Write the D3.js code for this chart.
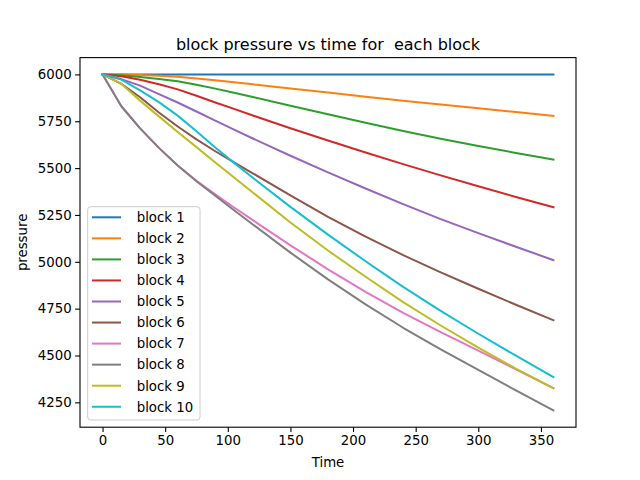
<!DOCTYPE html>
<html><head><meta charset="utf-8">
<script src="https://cdn.jsdelivr.net/npm/d3@7/dist/d3.min.js"></script>
<style>body{margin:0;background:#fff}svg{display:block}text{font-family:"DejaVu Sans",sans-serif}</style>
</head><body>
<svg id="c" width="640" height="480"></svg>
<script>
const times = [0,15,30,45,60,75,90,105,120,150,180,210,240,270,300,330,360];
const block1  = [6000,6000,6000,6000,6000,6000,6000,6000,6000,6000,6000,6000,6000,6000,6000,6000,6000];
const block2  = [6000,5999,5997,5993,5987,5978,5969,5958,5947,5925,5903,5881,5860,5839,5819,5799,5779];
const block3  = [6000,5995,5986,5976,5964,5945,5924,5902,5879,5833,5787,5742,5698,5657,5618,5581,5546];
const block4  = [6000,5990,5971,5947,5920,5886,5850,5816,5781,5713,5647,5583,5521,5461,5403,5346,5291];
const block5  = [6000,5975,5940,5895,5850,5802,5753,5705,5658,5566,5477,5391,5308,5228,5153,5080,5009];
const block6  = [6000,5950,5878,5797,5722,5653,5590,5530,5472,5354,5240,5134,5036,4944,4856,4771,4688];
const block7  = [6000,5830,5712,5608,5514,5432,5360,5290,5222,5088,4960,4840,4727,4625,4526,4426,4326];
const block8  = [6000,5830,5712,5608,5514,5430,5352,5275,5199,5049,4906,4773,4648,4533,4423,4314,4207];
const block9  = [6000,5950,5860,5776,5693,5612,5530,5450,5370,5210,5060,4920,4785,4660,4542,4430,4326];
const block10 = [6000,5972,5915,5852,5780,5697,5610,5528,5448,5293,5145,5003,4866,4738,4616,4499,4385];
const seriesNames = [" block 1"," block 2"," block 3"," block 4"," block 5"," block 6"," block 7"," block 8"," block 9"," block 10"];
const seriesValues = [block1,block2,block3,block4,block5,block6,block7,block8,block9,block10];
const xTicks = [0,50,100,150,200,250,300,350];
const yTicks = [4250,4500,4750,5000,5250,5500,5750,6000];
const colors = ["#1f77b4","#ff7f0e","#2ca02c","#d62728","#9467bd","#8c564b","#e377c2","#7f7f7f","#bcbd22","#17becf"];

const L=80,R=576,T=57.6,B=427.2;
const svg=d3.select("#c");
const xmin=d3.min(times), xmax=d3.max(times);
const allV=seriesValues.flat();
const ymin=d3.min(allV), ymax=d3.max(allV);
const xpad=(xmax-xmin)*0.05, ypad=(ymax-ymin)*0.05;
const x=d3.scaleLinear().domain([xmin-xpad,xmax+xpad]).range([L,R]);
const y=d3.scaleLinear().domain([ymin-ypad,ymax+ypad]).range([B,T]);

svg.append("defs").append("clipPath").attr("id","clp").append("rect")
  .attr("x",L).attr("y",T).attr("width",R-L).attr("height",B-T);

const line=d3.line().x((d,i)=>x(times[i])).y(d=>y(d));
const g=svg.append("g").attr("clip-path","url(#clp)");
seriesValues.forEach((vals,k)=>{
  g.append("path").datum(vals).attr("d",line).attr("fill","none")
   .attr("stroke",colors[k]).attr("stroke-width",2).attr("stroke-linejoin","round").attr("stroke-linecap","square");
});

// axes
const xa=svg.append("g").attr("transform",`translate(0,${B})`)
  .call(d3.axisBottom(x).tickValues(xTicks).tickSize(4.9).tickPadding(3.5).tickFormat(d3.format("d")));
const ya=svg.append("g").attr("transform",`translate(${L},0)`)
  .call(d3.axisLeft(y).tickValues(yTicks).tickSize(4.9).tickPadding(3.5).tickFormat(d3.format("d")));
[xa,ya].forEach(a=>{
  a.select(".domain").remove();
  a.selectAll(".tick line").attr("stroke","#000").attr("stroke-width",1.1);
  a.selectAll(".tick text").attr("fill","#000").style("font-size","13.3px").style("font-family","DejaVu Sans");
});
svg.append("rect").attr("x",L).attr("y",T).attr("width",R-L).attr("height",B-T)
  .attr("fill","none").attr("stroke","#000").attr("stroke-width",1.1);

svg.append("text").attr("x",(L+R)/2).attr("y",49.5).attr("text-anchor","middle")
  .style("font-size","16px").attr("xml:space","preserve").style("white-space","pre")
  .text("block pressure vs time for  each block");
svg.append("text").attr("x",(L+R)/2).attr("y",467).attr("text-anchor","middle")
  .style("font-size","13.3px").text("Time");
svg.append("text").attr("transform","translate(27,242.4) rotate(-90)").attr("text-anchor","middle")
  .style("font-size","13.3px").text("pressure");

// legend
const lg=svg.append("g");
lg.append("rect").attr("x",87.7).attr("y",206.7).attr("width",112.3).attr("height",213.3)
  .attr("rx",3).attr("fill","#fff").attr("fill-opacity",0.8).attr("stroke","#cccccc").attr("stroke-width",1);
seriesNames.forEach((n,k)=>{
  const yy=217.3+k*21.05;
  lg.append("line").attr("x1",92).attr("x2",121).attr("y1",yy).attr("y2",yy)
    .attr("stroke",colors[k]).attr("stroke-width",2);
  lg.append("text").attr("x",132.5).attr("y",yy+4.8).style("font-size","13.3px")
    .attr("xml:space","preserve").style("white-space","pre").text(n);
});
</script>
</body></html>
